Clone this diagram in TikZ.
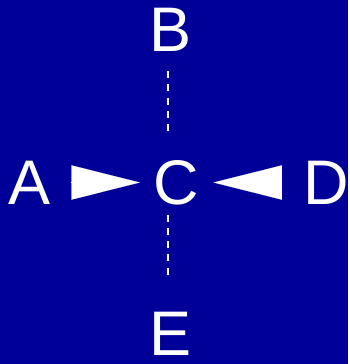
\documentclass[tikz,border=0pt]{standalone}
\usepackage{fontspec}
\setmainfont{Liberation Sans}
\usepackage{xcolor}
\usetikzlibrary{arrows.meta}
\definecolor{bgblue}{RGB}{0,0,153}

\begin{document}
\begin{tikzpicture}[x=1pt,y=-1pt,
  lbl/.style={white,inner sep=0pt,font=\fontsize{63}{63}\selectfont},
  wedge/.style={draw=white,line width=0.1pt,-{Triangle[length=68.3pt,width=34.3pt,fill=white]}},
  dashline/.style={white,line width=2pt,dash pattern=on 7pt off 6.3pt}]
  \fill[bgblue](0,0) rectangle (348,364);
  \node[lbl] (A) at (30,182.5) {A};
  \node[lbl] (B) at (170.5,29.5) {B};
  \node[lbl] (C) at (176,182.5) {C};
  \node[lbl] (D) at (326.7,182.5) {D};
  \node[lbl] (E) at (171,333.5) {E};
  \draw[wedge,shorten <=20.7pt,shorten >=13.3pt](A)--(C);
  \draw[wedge,shorten <=22.3pt,shorten >=14.6pt](D)--(C);
  \draw[dashline]([xshift=-2.2pt,yshift=-19.7pt]B.south)--([xshift=-7.7pt,yshift=27.5pt]C.north);
  \draw[dashline]([xshift=-7.7pt,yshift=-9.5pt]C.south)--([xshift=-2.7pt,yshift=35pt]E.north);
\end{tikzpicture}
\end{document}
